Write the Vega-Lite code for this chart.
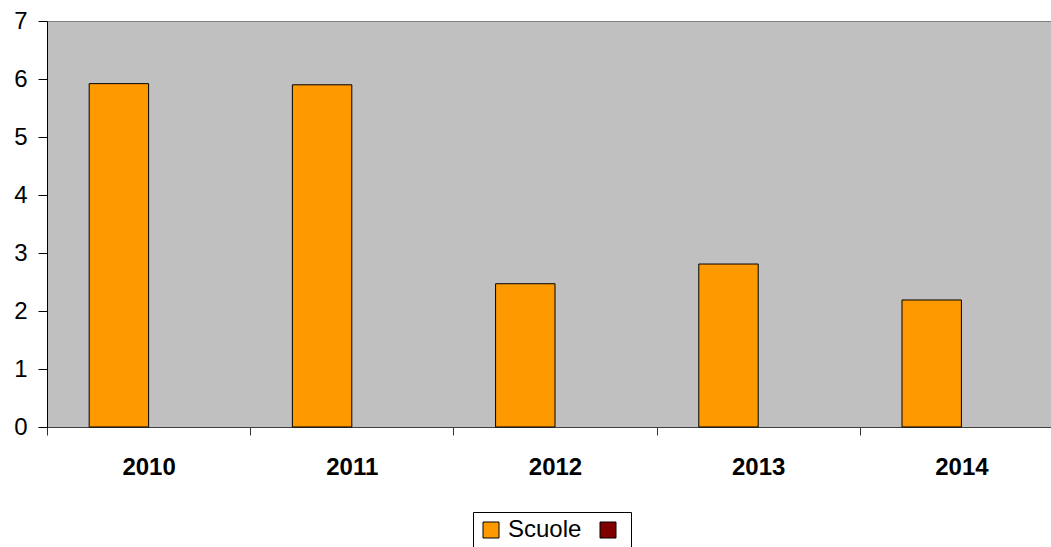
{
  "$schema": "https://vega.github.io/schema/vega-lite/v6.json",
  "autosize": {"type": "none"},
  "width": 1016,
  "height": 406,
  "padding": {"left": 47, "top": 21, "right": -12, "bottom": 120},
  "background": "white",
  "config": {
    "font": "Liberation Sans",
    "view": {"fill": "#C0C0C0", "stroke": "#808080", "strokeWidth": 1}
  },
  "data": {
    "values": [
      {"anno": "2010", "serie": "Scuole", "valore": 5.92},
      {"anno": "2011", "serie": "Scuole", "valore": 5.9},
      {"anno": "2012", "serie": "Scuole", "valore": 2.47},
      {"anno": "2013", "serie": "Scuole", "valore": 2.81},
      {"anno": "2014", "serie": "Scuole", "valore": 2.19}
    ]
  },
  "mark": {"type": "bar", "stroke": "black", "strokeWidth": 1, "opacity": 1},
  "encoding": {
    "x": {
      "field": "anno",
      "type": "ordinal",
      "scale": {"paddingInner": 0, "paddingOuter": 0},
      "axis": {
        "title": null,
        "labelAngle": 0,
        "labelFontSize": 24,
        "labelFontWeight": "bold",
        "labelColor": "black",
        "labelPadding": 20,
        "tickBand": "extent",
        "tickSize": 8,
        "tickColor": "#333333",
        "domainColor": "#404040",
        "grid": false
      }
    },
    "xOffset": {
      "field": "serie",
      "type": "nominal",
      "scale": {"domain": ["Scuole", "Serie2"], "paddingInner": 0, "paddingOuter": 0.71}
    },
    "y": {
      "field": "valore",
      "type": "quantitative",
      "scale": {"domain": [0, 7], "nice": false},
      "axis": {
        "title": null,
        "values": [0, 1, 2, 3, 4, 5, 6, 7],
        "grid": false,
        "labelFontSize": 24,
        "labelColor": "black",
        "labelPadding": 11,
        "tickSize": 9,
        "tickColor": "black",
        "domainColor": "black"
      }
    },
    "color": {
      "field": "serie",
      "type": "nominal",
      "scale": {"domain": ["Scuole", "Serie2"], "range": ["#FF9900", "#800000"]},
      "legend": {
        "title": null,
        "orient": "none",
        "legendX": 426,
        "legendY": 491,
        "direction": "horizontal",
        "strokeColor": "black",
        "fillColor": "white",
        "padding": 6,
        "symbolType": "square",
        "symbolSize": 256,
        "symbolStrokeColor": "black",
        "symbolStrokeWidth": 1,
        "symbolOpacity": 1,
        "labelFontSize": 24,
        "labelColor": "black",
        "labelOffset": 5,
        "columnPadding": 14,
        "labelExpr": "datum.label == 'Serie2' ? '' : datum.label"
      }
    }
  }
}
